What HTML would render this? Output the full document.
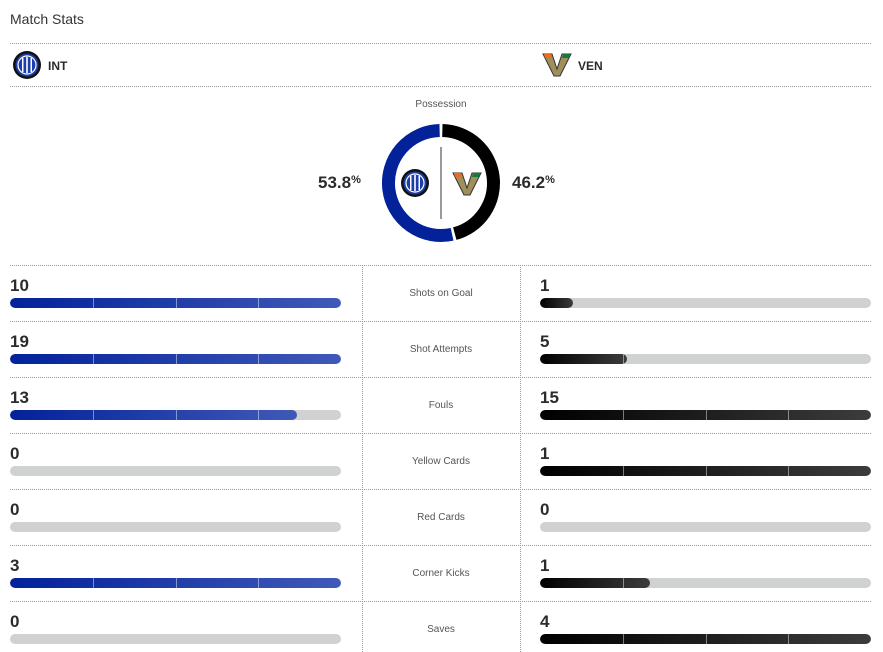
<!DOCTYPE html>
<html><head><meta charset="utf-8"><style>
body{margin:0;width:883px;height:652px;background:#fff;font-family:"Liberation Sans",sans-serif;position:relative;overflow:hidden;color:#2b2b2b}
.a{position:absolute}
.hl{position:absolute;left:10px;width:861px;border-top:1px dotted #9a9a9a;height:0}
.vl{position:absolute;width:0;border-left:1px dotted #9a9a9a}
.num{position:absolute;font-size:17px;font-weight:bold;color:#2b2b2b}
.lab{position:absolute;left:362px;width:158px;text-align:center;font-size:10px;color:#555}
.bar{position:absolute;height:10px;border-radius:5px;background:#d0d1d1;overflow:hidden;width:331px}
.fb{position:absolute;left:0;top:0;height:10px;border-radius:5px;background:linear-gradient(90deg,#03229a,#4059b8)}
.fk{position:absolute;left:0;top:0;height:10px;border-radius:5px;background:linear-gradient(90deg,#000,#3c3c3c)}
.tk{position:absolute;top:0;width:1px;height:10px;background:rgba(255,255,255,.45)}
</style></head><body>
<div class="a" style="left:10px;top:11px;font-size:14px;color:#333">Match Stats</div>
<div class="hl" style="top:43px"></div>
<svg class="a" style="left:12px;top:50px" width="30" height="30" viewBox="0 0 30 30"><circle cx="15" cy="15" r="14" fill="#111"/><circle cx="15" cy="15" r="11.5" fill="#1b3ea8"/><circle cx="15" cy="15" r="9" fill="none" stroke="#fff" stroke-width="1.2"/><rect x="10" y="8" width="1.5" height="14" fill="#fff"/><rect x="14.2" y="7" width="1.6" height="16" fill="#fff"/><rect x="18.5" y="8" width="1.5" height="14" fill="#fff"/></svg>
<div class="a" style="left:48px;top:59px;font-size:12px;font-weight:bold">INT</div>
<svg class="a" style="left:542px;top:53px" width="30" height="24" viewBox="0 0 30 24"><polygon points="1,1 10,1 15,16 20,1 29,1 18,23 12,23" fill="#a08f5a" stroke="#333" stroke-width="1"/><polygon points="2,1 9,1 10,5 3,5" fill="#ef6a1a"/><polygon points="21,1 28,1 27,5 20,5" fill="#127a3e"/></svg>
<div class="a" style="left:578px;top:59px;font-size:12px;font-weight:bold">VEN</div>
<div class="hl" style="top:86px"></div>
<div class="a" style="left:362px;width:158px;text-align:center;top:99px;font-size:10px;color:#555">Possession</div>
<svg class="a" style="left:0;top:0" width="883" height="260">
<path d="M442.37 130.52 A52.5 52.5 0 0 1 454.77 233.66" fill="none" stroke="#000" stroke-width="13"/>
<path d="M452.09 234.31 A52.5 52.5 0 1 1 439.63 130.52" fill="none" stroke="#03229a" stroke-width="13"/>
<line x1="441" y1="147" x2="441" y2="219" stroke="#333" stroke-width="1"/>
<circle cx="415" cy="183" r="14" fill="#111"/><circle cx="415" cy="183" r="11.5" fill="#1b3ea8"/><circle cx="415" cy="183" r="9" fill="none" stroke="#fff" stroke-width="1.2"/><rect x="410" y="176" width="1.5" height="14" fill="#fff"/><rect x="414.2" y="175" width="1.6" height="16" fill="#fff"/><rect x="418.5" y="176" width="1.5" height="14" fill="#fff"/>
<g transform="translate(452,172)"><polygon points="1,1 10,1 15,16 20,1 29,1 18,23 12,23" fill="#a08f5a" stroke="#333" stroke-width="1"/><polygon points="2,1 9,1 10,5 3,5" fill="#ef6a1a"/><polygon points="21,1 28,1 27,5 20,5" fill="#127a3e"/></g>
</svg>
<div class="a" style="left:318px;top:173px;font-size:17px;font-weight:bold">53.8<span style="font-size:11px;vertical-align:5px">%</span></div>
<div class="a" style="left:512px;top:173px;font-size:17px;font-weight:bold">46.2<span style="font-size:11px;vertical-align:5px">%</span></div>
<div class="vl" style="left:362px;top:265px;height:387px"></div>
<div class="vl" style="left:520px;top:265px;height:387px"></div>
<div id="rows"></div>
<script>
var d=[["Shots on Goal",10,1],["Shot Attempts",19,5],["Fouls",13,15],["Yellow Cards",0,1],["Red Cards",0,0],["Corner Kicks",3,1],["Saves",0,4]];
var h="";
function bar(x,y,f,cls){var s='<div class="bar" style="left:'+x+'px;top:'+y+'px">';if(f>0){s+='<div class="'+cls+'" style="width:'+(331*f)+'px"></div>';for(var k=1;k<4;k++)if(k*82.75<331*f-3)s+='<div class="tk" style="left:'+(k*82.75)+'px"></div>';}return s+'</div>';}
d.forEach(function(r,i){var y=265+56*i;var m=Math.max(r[1],r[2]);
h+='<div class="hl" style="top:'+y+'px"></div>';
h+='<div class="num" style="left:10px;top:'+(y+11)+'px">'+r[1]+'</div>';
h+='<div class="num" style="left:540px;top:'+(y+11)+'px">'+r[2]+'</div>';
h+='<div class="lab" style="top:'+(y+23)+'px">'+r[0]+'</div>';
h+=bar(10,y+33,m?r[1]/m:0,"fb");h+=bar(540,y+33,m?r[2]/m:0,"fk");});
document.getElementById("rows").innerHTML=h;
</script>
</body></html>
